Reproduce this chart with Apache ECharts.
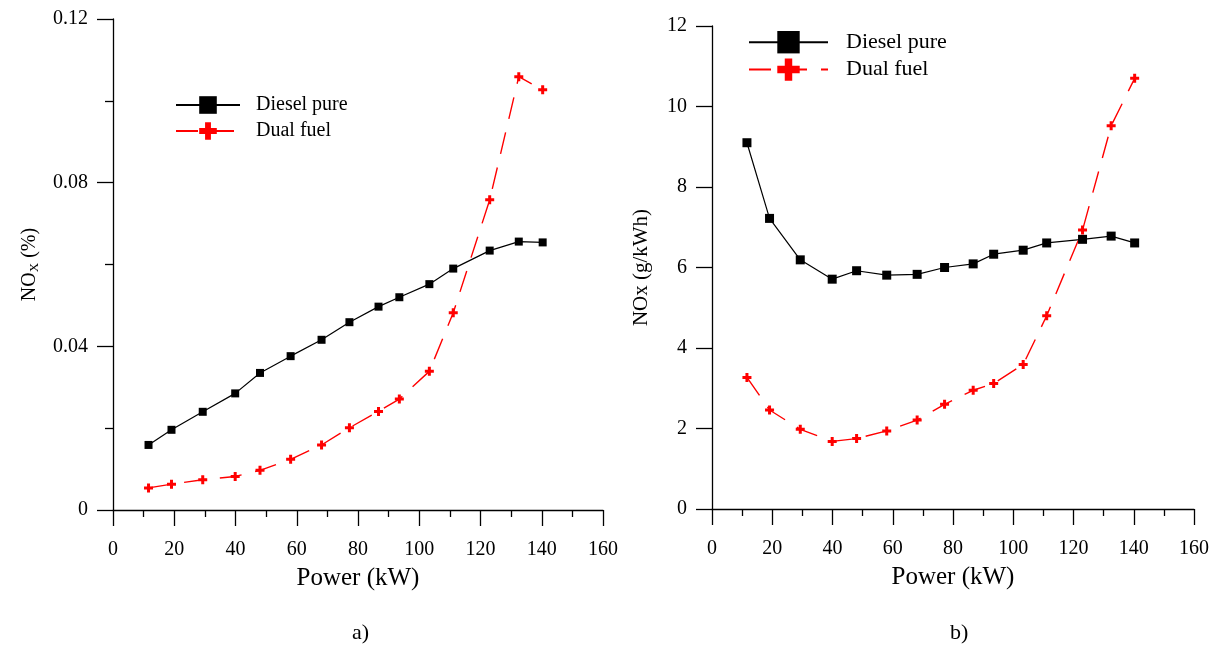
<!DOCTYPE html>
<html>
<head>
<meta charset="utf-8">
<script src="https://cdn.jsdelivr.net/npm/echarts@6/dist/echarts.min.js"></script>
</head>
<body style="margin:0;background:#fff">
<div id="container" style="width:1216px;height:651px"></div>
<script type="text/javascript">
// power points (kW), same for both panels
var power = [11.6, 19.1, 29.3, 39.9, 48.0, 58.0, 68.1, 77.2, 86.7, 93.5, 103.3, 111.1, 123.0, 132.5, 140.3];
// panel a) NOx (%)
var dieselPct = [0.0159, 0.0196, 0.0240, 0.0285, 0.0335, 0.0376, 0.0416, 0.0459, 0.0497, 0.0520, 0.0552, 0.0590, 0.0634, 0.0656, 0.0654];
var dualPct = [0.0054, 0.0063, 0.0074, 0.0082, 0.0097, 0.0124, 0.0159, 0.0201, 0.0241, 0.0271, 0.0339, 0.0482, 0.0758, 0.1059, 0.1027];
// panel b) NOx (g/kWh)
var dieselSpec = [9.10, 7.22, 6.19, 5.71, 5.92, 5.81, 5.83, 6.00, 6.09, 6.33, 6.43, 6.61, 6.70, 6.78, 6.61];
var dualSpec = [3.27, 2.46, 1.98, 1.68, 1.75, 1.94, 2.21, 2.60, 2.95, 3.12, 3.59, 4.80, 6.93, 9.52, 10.70];
var xTicks = [0, 20, 40, 60, 80, 100, 120, 140, 160];

var font = "'Liberation Serif', 'Times New Roman', serif";
var plus = 'path://M3,0H6V3H9V6H6V9H3V6H0V3H3Z';

function pairs(xs, ys) {
    return xs.map(function (x, i) { return [x, ys[i]]; });
}

function xAxis(idx) {
    return {
        gridIndex: idx,
        type: 'value',
        min: xTicks[0],
        max: xTicks[xTicks.length - 1],
        interval: 20,
        name: 'Power (kW)',
        nameLocation: 'middle',
        nameGap: 56,
        nameTextStyle: {fontFamily: font, fontSize: 25, color: '#000'},
        axisLine: {lineStyle: {color: '#000', width: 1.3}},
        axisTick: {length: 16, lineStyle: {color: '#000', width: 1.3}},
        minorTick: {show: true, splitNumber: 2, length: 7, lineStyle: {color: '#000', width: 1.3}},
        splitLine: {show: false},
        axisLabel: {margin: 30, fontFamily: font, fontSize: 20, color: '#000'}
    };
}

var myChart = echarts.init(document.getElementById('container'));
var option = {
    animation: false,
    backgroundColor: '#fff',
    grid: [
        {left: 113, top: 19, width: 490, height: 491},
        {left: 712, top: 26, width: 482, height: 483}
    ],
    xAxis: [xAxis(0), xAxis(1)],
    yAxis: [
        {
            gridIndex: 0, type: 'value', min: 0, max: 0.12, interval: 0.04,
            name: '{a|NO}{s|X}{a| (%)}',
            nameLocation: 'middle', nameGap: 72,
            nameTextStyle: {
                color: '#000',
                rich: {
                    a: {fontFamily: font, fontSize: 20, color: '#000'},
                    s: {fontFamily: font, fontSize: 13, color: '#000', padding: [9, 0, 0, 0], verticalAlign: 'bottom'}
                }
            },
            axisLine: {show: true, lineStyle: {color: '#000', width: 1.3}},
            axisTick: {length: 16, lineStyle: {color: '#000', width: 1.3}},
            minorTick: {show: true, splitNumber: 2, length: 8, lineStyle: {color: '#000', width: 1.3}},
            splitLine: {show: false},
            axisLabel: {margin: 25, fontFamily: font, fontSize: 20, color: '#000'}
        },
        {
            gridIndex: 1, type: 'value', min: 0, max: 12, interval: 2,
            name: 'NOx (g/kWh)',
            nameLocation: 'middle', nameGap: 60,
            nameTextStyle: {fontFamily: font, fontSize: 21, color: '#000'},
            axisLine: {show: true, lineStyle: {color: '#000', width: 1.3}},
            axisTick: {length: 16, lineStyle: {color: '#000', width: 1.3}},
            splitLine: {show: false},
            axisLabel: {margin: 25, fontFamily: font, fontSize: 20, color: '#000'}
        }
    ],
    legend: [
        {
            left: 175, top: 95, orient: 'vertical', padding: 0,
            itemWidth: 64, itemHeight: 22, itemGap: 6,
            textStyle: {fontFamily: font, fontSize: 20, color: '#000', padding: [0, 0, 0, 11]},
            data: ['Diesel pure', 'Dual fuel']
        },
        {
            left: 748, top: 31, orient: 'vertical', padding: 0,
            itemWidth: 79, itemHeight: 28, itemGap: 5,
            textStyle: {fontFamily: font, fontSize: 22, color: '#000', padding: [0, 0, 0, 13]},
            data: ['Diesel pure', 'Dual fuel']
        }
    ],
    graphic: [
        {type: 'text', left: 352, top: 622, style: {text: 'a)', font: '22px ' + font, fill: '#000'}},
        {type: 'text', left: 950, top: 622, style: {text: 'b)', font: '22px ' + font, fill: '#000'}}
    ],
    series: [
        {
            name: 'Diesel pure', type: 'line', xAxisIndex: 0, yAxisIndex: 0,
            data: pairs(power, dieselPct),
            symbol: 'rect', symbolSize: 8,
            itemStyle: {color: '#000'},
            lineStyle: {color: '#000', width: 1.2}
        },
        {
            name: 'Dual fuel', type: 'line', xAxisIndex: 0, yAxisIndex: 0,
            data: pairs(power, dualPct),
            symbol: plus, symbolSize: 9,
            itemStyle: {color: '#ff0000'},
            lineStyle: {color: '#ff0000', width: 1.4, type: [22, 14]}
        },
        {
            name: 'Diesel pure', type: 'line', xAxisIndex: 1, yAxisIndex: 1,
            data: pairs(power, dieselSpec),
            symbol: 'rect', symbolSize: 9,
            itemStyle: {color: '#000'},
            lineStyle: {color: '#000', width: 1.2}
        },
        {
            name: 'Dual fuel', type: 'line', xAxisIndex: 1, yAxisIndex: 1,
            data: pairs(power, dualSpec),
            symbol: plus, symbolSize: 9,
            itemStyle: {color: '#ff0000'},
            lineStyle: {color: '#ff0000', width: 1.4, type: [22, 14]}
        }
    ]
};
myChart.setOption(option);
</script>
</body>
</html>
